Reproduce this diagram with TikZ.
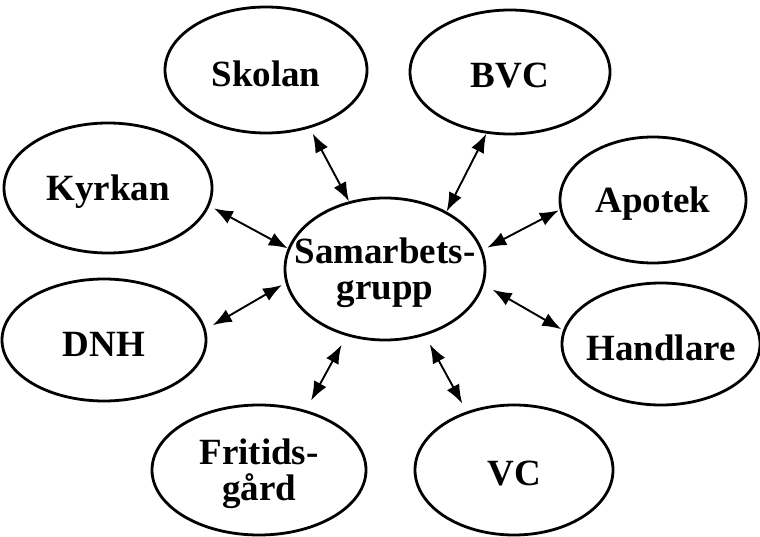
\documentclass[tikz,border=0pt]{standalone}
\usepackage{fontspec}
\setmainfont{Liberation Serif}
\usetikzlibrary{shapes.geometric,arrows.meta}
\tikzset{
  el/.style={ellipse, draw, line width=2.8pt, inner sep=0pt},
  txt/.style={font=\bfseries\fontsize{37}{36}\selectfont, align=center, inner sep=0pt, yshift=-4pt},
  link/.style={line width=1.9pt, {Latex[length=19pt,width=14pt]}-{Latex[length=19pt,width=14pt]}}
}
\begin{document}
\begin{tikzpicture}[x=1pt,y=-1pt]
\fill[white] (0,0) rectangle (760,537);
\useasboundingbox (0,0) rectangle (760,537);
\node[el, minimum width=200pt, minimum height=142pt, label={[txt]center:Samarbets-\\grupp}] (samar) at (385,269) {};
\node[el, minimum width=202pt, minimum height=126pt, label={[txt]center:Skolan}] (skolan) at (266,70) {};
\node[el, minimum width=200pt, minimum height=124pt, label={[txt]center:BVC}] (bvc) at (510,72) {};
\node[el, minimum width=208pt, minimum height=130pt, label={[txt]center:Kyrkan}] (kyrkan) at (108,188) {};
\node[el, minimum width=186pt, minimum height=126pt, label={[txt]center:Apotek}] (apotek) at (653,200) {};
\node[el, minimum width=204pt, minimum height=122pt, label={[txt]center:DNH}] (dnh) at (104,340) {};
\node[el, minimum width=198pt, minimum height=122pt, label={[txt]center:Handlare}] (handlare) at (661,344) {};
\node[el, minimum width=214pt, minimum height=130pt, label={[txt]center:Fritids-\\gård}] (fritids) at (259,470) {};
\node[el, minimum width=198pt, minimum height=130pt, label={[txt]center:VC}] (vc) at (514,470) {};
\draw[link, shorten <=6pt] (skolan.-53) -- (samar.118);
\draw[link] (bvc.-111) -- (samar.43);
\draw[link, shorten <=5pt] (kyrkan.-10) -- (samar.168);
\draw[link, shorten <=1pt, shorten >=5pt] (apotek.186) -- (samar.11);
\draw[link, shorten <=8pt, shorten >=4pt] (dnh.6) -- (samar.188);
\draw[link, shorten <=2pt, shorten >=10pt] (handlare.172) -- (samar.-9);
\draw[link, shorten <=11pt, shorten >=10pt] (fritids.52) -- (samar.-120);
\draw[link, shorten <=9pt, shorten >=10pt] (vc.129) -- (samar.-59);
\end{tikzpicture}
\end{document}
